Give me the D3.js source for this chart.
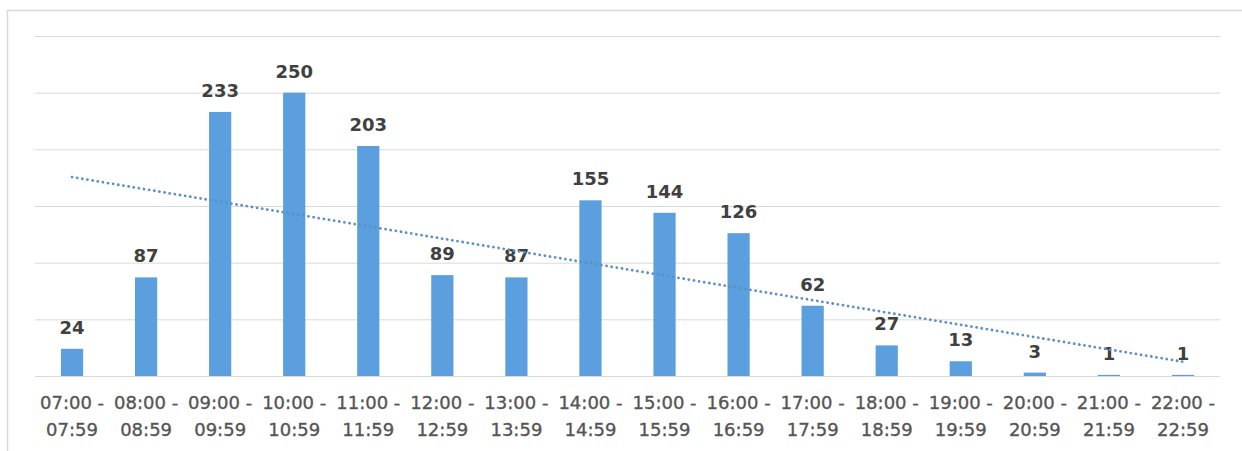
<!DOCTYPE html>
<html><head><meta charset="utf-8">
<script src="https://cdn.jsdelivr.net/npm/d3@7"></script>
<style>html,body{margin:0;padding:0;background:#fff;}svg{display:block;}</style>
</head><body>
<svg id="chart" width="1242" height="451"></svg>
<script>
const startTimes = ["07:00","08:00","09:00","10:00","11:00","12:00","13:00","14:00","15:00","16:00","17:00","18:00","19:00","20:00","21:00","22:00"];
const endTimes = ["07:59","08:59","09:59","10:59","11:59","12:59","13:59","14:59","15:59","16:59","17:59","18:59","19:59","20:59","21:59","22:59"];
const values = [24,87,233,250,203,89,87,155,144,126,62,27,13,3,1,1];
const yTicks = [0,50,100,150,200,250,300];

(function(){
const svg = d3.select("#chart");
// outer frame
svg.append("rect").attr("x",7.5).attr("y",10.5).attr("width",1400).attr("height",600)
  .attr("fill","#fff").attr("stroke","#d9d9d9").attr("stroke-width",1.5);

const pLeft = 35, pRight = 1220, pTop = 36, pBottom = 376;
const x = d3.scaleBand().domain(startTimes).range([pLeft,pRight]).paddingInner(0.7).paddingOuter(0.35);
const y = d3.scaleLinear().domain([0,300]).range([pBottom,pTop]);

// gridlines
svg.append("g").attr("transform",`translate(${pLeft},0)`)
  .call(d3.axisLeft(y).tickValues(yTicks).tickSize(-(pRight-pLeft)).tickFormat(""))
  .call(g=>g.select(".domain").remove())
  .call(g=>g.selectAll("line").attr("stroke","#d9d9d9").attr("stroke-width",1));

// bars
svg.append("g").selectAll("rect").data(values).join("rect")
  .attr("x",(d,i)=>x(startTimes[i]))
  .attr("width",x.bandwidth())
  .attr("y",d=>y(d))
  .attr("height",d=>pBottom-y(d))
  .attr("fill","#5b9fdf");

// value labels
svg.append("g").selectAll("text").data(values).join("text")
  .attr("x",(d,i)=>x(startTimes[i])+x.bandwidth()/2)
  .attr("y",d=>y(d)-15)
  .attr("text-anchor","middle")
  .attr("font-family","DejaVu Sans")
  .attr("font-weight","bold")
  .attr("font-size",18)
  .attr("fill","#404040")
  .text(d=>d);

// linear trendline
const n = values.length;
const xs = d3.range(1,n+1);
const mx = d3.mean(xs), my = d3.mean(values);
const sxy = d3.sum(xs,(xi,i)=>(xi-mx)*(values[i]-my));
const sxx = d3.sum(xs,xi=>(xi-mx)*(xi-mx));
const slope = sxy/sxx, icpt = my - slope*mx;
const cx = i => x(startTimes[i]) + x.bandwidth()/2;
svg.append("line")
  .attr("x1",cx(0)).attr("y1",y(icpt+slope*1))
  .attr("x2",cx(n-1)).attr("y2",y(icpt+slope*n))
  .attr("stroke","#5b8fc8").attr("stroke-width",2.8)
  .attr("stroke-linecap","round").attr("stroke-dasharray","0.01 5.2");

// x axis
const xAxis = svg.append("g").attr("transform",`translate(0,${pBottom})`)
  .call(d3.axisBottom(x).tickSize(0).tickFormat(""));
xAxis.select(".domain").attr("stroke","#d9d9d9").attr("d",`M${pLeft},0.5H${pRight}`);
const lab = svg.append("g").selectAll("text").data(startTimes).join("text")
  .attr("text-anchor","middle")
  .attr("font-family","DejaVu Sans")
  .attr("font-size",18)
  .attr("fill","#555555")
  .attr("stroke","#555555").attr("stroke-width",0.35);
lab.append("tspan").attr("x",d=>x(d)+x.bandwidth()/2).attr("y",409).text(d=>d+" -");
lab.append("tspan").attr("x",d=>x(d)+x.bandwidth()/2).attr("y",436).text((d,i)=>endTimes[i]);
})();
</script>
</body></html>
